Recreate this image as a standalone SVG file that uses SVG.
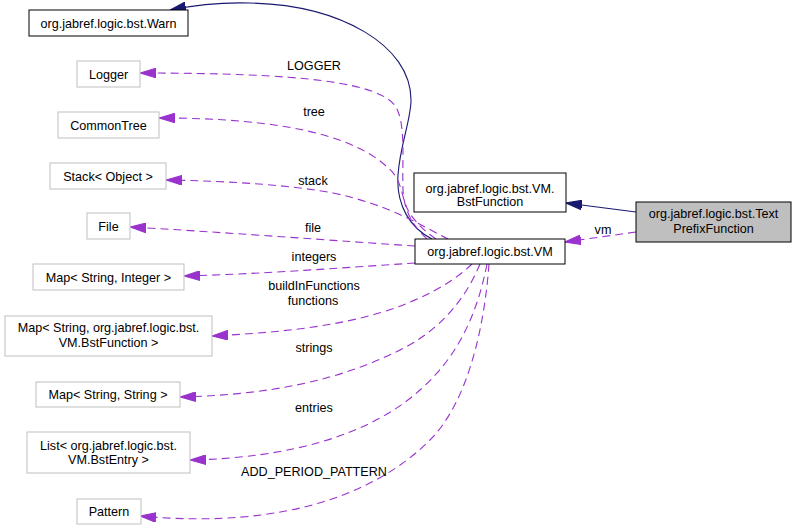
<svg xmlns="http://www.w3.org/2000/svg" width="796" height="530" viewBox="0 0 796 530">
<style>
text{font-family:"Liberation Sans",Arial,sans-serif;font-size:12.6px;fill:#000}
.n text{text-anchor:middle}
.doc{fill:#fff;stroke:#000;stroke-width:1}
.ext{fill:#fff;stroke:#bfbfbf;stroke-width:1}
.cur{fill:#bfbfbf;stroke:#000;stroke-width:1}
.inh{fill:none;stroke:#191970;stroke-width:1.1;marker-end:url(#an)}
.use{fill:none;stroke:#9a32cd;stroke-width:1.1;stroke-dasharray:8,5;marker-end:url(#ap)}
.lbl{text-anchor:middle}
</style>
<defs>
<marker id="an" markerUnits="userSpaceOnUse" markerWidth="16" markerHeight="10" viewBox="0 0 15 9" refX="15" refY="4.5" orient="auto"><polygon points="0,0 15,4.5 0,9" fill="#191970" stroke="#191970"/></marker>
<marker id="ap" markerUnits="userSpaceOnUse" markerWidth="16" markerHeight="10" viewBox="0 0 15 9" refX="15" refY="4.5" orient="auto"><polygon points="0,0 15,4.5 0,9" fill="#9a32cd" stroke="#9a32cd"/></marker>
</defs>
<rect width="796" height="530" fill="#fff"/>
<g id="edges">
<path class="inh" d="M 432,239 C 410,228 396,205 398,175 C 400,145 411,120 411,100 C 411,45 340,5 250,3 C 220,2 195,5 170,10"/>
<path class="inh" d="M 636,212 L 566,203"/>
<path class="use" d="M 636,232 L 565,242"/>
<path class="use" d="M 427,239 C 412,225 404,210 403,190 C 402,160 406,125 396,107 C 380,82 300,73 140,73"/>
<path class="use" d="M 436,239 C 420,228 408,215 404,200 C 400,185 398,175 385,165 C 350,135 280,118 159,118"/>
<path class="use" d="M 448,239 C 420,225 390,205 333,193 C 290,185 230,181 166,180"/>
<path class="use" d="M 415,246 C 340,241 220,232 130,227"/>
<path class="use" d="M 415,263 C 340,268 260,274 184,276"/>
<path class="use" d="M 472,264 C 450,285 420,300 383,312 C 330,328 270,333 212,336"/>
<path class="use" d="M 480,264 C 465,300 440,330 400,350 C 340,380 270,395 180,397"/>
<path class="use" d="M 487,264 C 478,310 460,355 420,390 C 370,435 290,458 190,460"/>
<path class="use" d="M 489,264 C 485,320 470,400 430,440 C 380,490 290,530 140,516"/>
<text class="lbl" x="314" y="69.5">LOGGER</text>
<text class="lbl" x="314" y="116">tree</text>
<text class="lbl" x="313" y="185">stack</text>
<text class="lbl" x="313" y="232">file</text>
<text class="lbl" x="314" y="261">integers</text>
<text class="lbl" x="314" y="290">buildInFunctions</text>
<text class="lbl" x="313" y="304.5">functions</text>
<text class="lbl" x="314" y="352">strings</text>
<text class="lbl" x="314" y="412">entries</text>
<text class="lbl" x="314" y="476">ADD_PERIOD_PATTERN</text>
<text class="lbl" x="603" y="233.5">vm</text>
</g>
<g id="n-textprefix" class="n"><rect class="cur" x="636" y="202" width="155" height="40"/><text x="713.5" y="218">org.jabref.logic.bst.Text</text><text x="713.5" y="233">PrefixFunction</text></g>
<g id="n-bstfunction" class="n"><rect class="doc" x="414" y="173" width="152" height="39"/><text x="490" y="192.5">org.jabref.logic.bst.VM.</text><text x="490" y="205.5">BstFunction</text></g>
<g id="n-vm" class="n"><rect class="doc" x="415" y="239" width="150" height="25"/><text x="490" y="256">org.jabref.logic.bst.VM</text></g>
<g id="n-warn" class="n"><rect class="doc" x="29" y="10" width="159" height="26"/><text x="108.5" y="27.5">org.jabref.logic.bst.Warn</text></g>
<g id="n-logger" class="n"><rect class="ext" x="77" y="61" width="63" height="26"/><text x="108.5" y="78.5">Logger</text></g>
<g id="n-commontree" class="n"><rect class="ext" x="58" y="112" width="101" height="26"/><text x="108.5" y="129.5">CommonTree</text></g>
<g id="n-stack" class="n"><rect class="ext" x="50" y="163" width="116" height="26"/><text x="108" y="180.5">Stack&lt; Object &gt;</text></g>
<g id="n-file" class="n"><rect class="ext" x="87" y="213" width="43" height="26"/><text x="108.5" y="230.5">File</text></g>
<g id="n-mapint" class="n"><rect class="ext" x="33" y="264" width="151" height="26"/><text x="108.5" y="281.5">Map&lt; String, Integer &gt;</text></g>
<g id="n-mapfunc" class="n"><rect class="ext" x="5" y="316" width="207" height="40"/><text x="108.5" y="331.5">Map&lt; String, org.jabref.logic.bst.</text><text x="108.5" y="346.5">VM.BstFunction &gt;</text></g>
<g id="n-mapstr" class="n"><rect class="ext" x="36" y="382" width="144" height="25"/><text x="108" y="399">Map&lt; String, String &gt;</text></g>
<g id="n-list" class="n"><rect class="ext" x="27" y="432" width="163" height="41"/><text x="108.5" y="449.5">List&lt; org.jabref.logic.bst.</text><text x="108.5" y="464">VM.BstEntry &gt;</text></g>
<g id="n-pattern" class="n"><rect class="ext" x="77" y="499" width="64" height="25"/><text x="109" y="516">Pattern</text></g>
</svg>
